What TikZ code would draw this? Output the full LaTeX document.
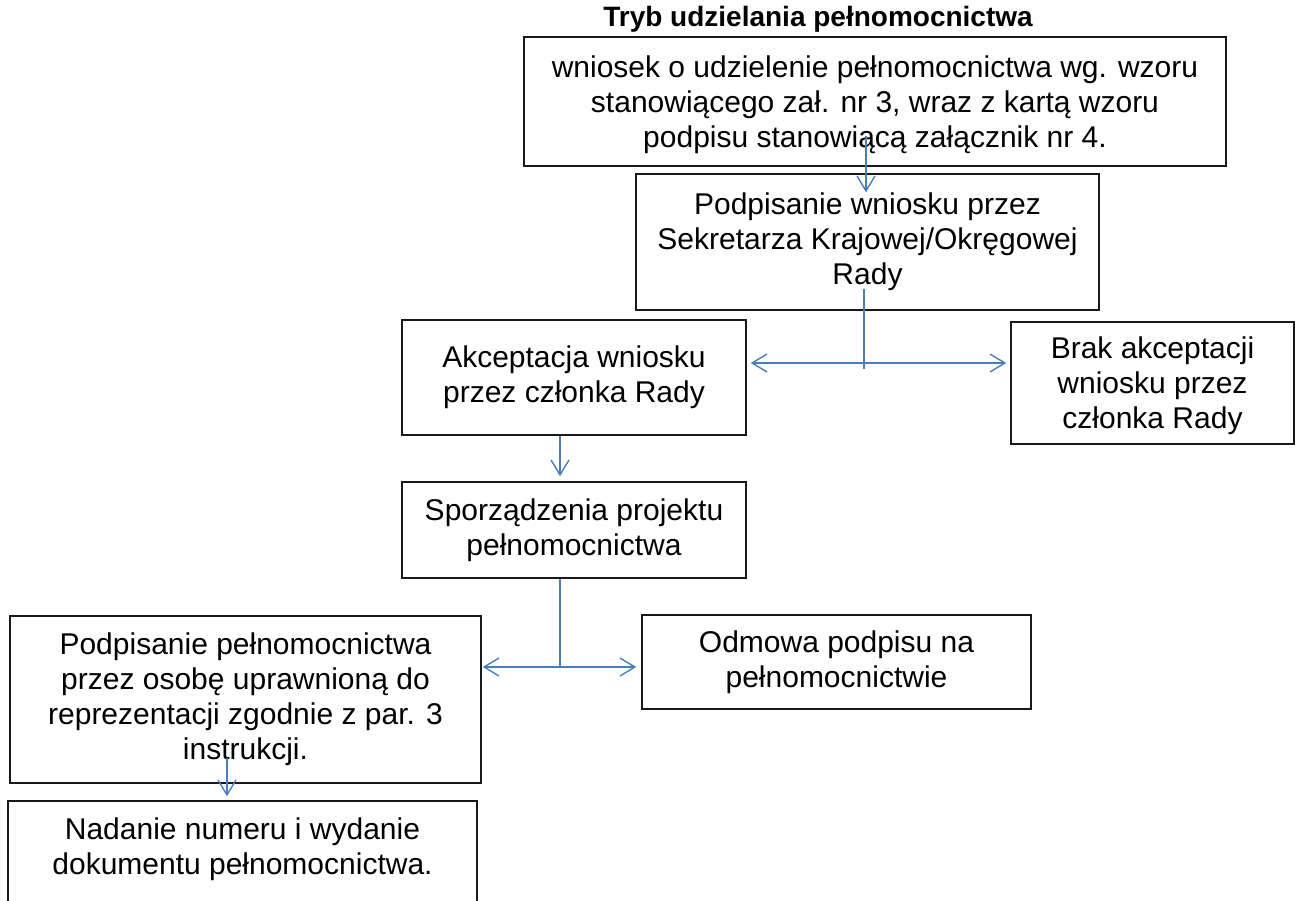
\documentclass[tikz,border=0pt]{standalone}
\usepackage{fontspec}
\setmainfont{Liberation Sans}
\usetikzlibrary{arrows.meta,calc}
\definecolor{lineblue}{HTML}{4A7EBB}
\begin{document}
\begin{tikzpicture}[x=1pt,y=-1pt,
  box/.style={draw=black!90, line width=1.4pt, align=center, inner sep=0pt, font=\fontsize{30}{35}\selectfont},
  txt/.style={align=center, inner sep=0pt, font=\fontsize{30}{35}\selectfont},
  conn/.style={draw=lineblue, line width=1.4pt},
  barb/.tip={Straight Barb[length=15pt,width=18pt]},
  tip/.style={-barb},
  dtip/.style={barb-barb}
]
\useasboundingbox (0,0) rectangle (1295,900);

\node[font=\fontsize{28}{34}\selectfont\bfseries, inner sep=0pt] (title) at (818,19) {Tryb udzielania pełnomocnictwa};

\node[box, minimum width=702, minimum height=129] (b1) at (875,101.5) {};
\node[txt] (t1) at ($(b1)+(0,3)$)
  {wniosek o udzielenie pełnomocnictwa wg. wzoru\\stanowiącego zał. nr 3, wraz z kartą wzoru\\podpisu stanowiącą załącznik nr 4.};
\node[box, minimum width=463, minimum height=136] (b2) at (867.5,242)
  {Podpisanie wniosku przez\\Sekretarza Krajowej/Okręgowej\\Rady};
\node[box, minimum width=344, minimum height=115] (b3) at (574,377.5)
  {Akceptacja wniosku\\przez członka Rady};
\node[box, minimum width=283, minimum height=122] (b4) at (1152.5,383) {};
\node[txt] (t4) at ($(b4)+(0,3)$)
  {Brak akceptacji\\wniosku przez\\członka Rady};
\node[box, minimum width=344, minimum height=96] (b5) at (574,530)
  {Sporządzenia projektu\\pełnomocnictwa};
\node[box, minimum width=471, minimum height=167] (b6) at (245.5,699.5)
  {Podpisanie pełnomocnictwa\\przez osobę uprawnioną do\\reprezentacji zgodnie z par. 3\\instrukcji.};
\node[box, minimum width=389, minimum height=94] (b8) at (836.5,662)
  {Odmowa podpisu na\\pełnomocnictwie};
\node[box, minimum width=469, minimum height=119] (b7) at (242.5,860.5) {};
\node[txt] (t7) at (242.5,849) {Nadanie numeru i wydanie\\dokumentu pełnomocnictwa.};

% connector 1
\coordinate (s1) at ($(b2.north)+(-1.5,-37)$);
\coordinate (e1) at ($(b2.north)+(-1.5,19)$);
\draw[conn,tip] (s1) -- (e1);

% connector 2
\coordinate (s2) at ($(b2.south)+(-3.5,-22)$);
\coordinate (e2) at ($(b2.south)+(-3.5,58)$);
\draw[conn] (s2) -- (e2);
\coordinate (l2) at ($(b3.east)+(4,-14.5)$);
\coordinate (r2) at ($(b4.west)+(-4,-20)$);
\draw[conn,dtip] (l2) -- (r2);

% connector 3
\coordinate (s3) at ($(b3.south)+(-14,0)$);
\coordinate (e3) at ($(b5.north)+(-14,-5)$);
\draw[conn,tip] (s3) -- (e3);

% connector 4
\coordinate (s4) at ($(b5.south)+(-14,0)$);
\coordinate (e4) at ($(b5.south)+(-14,89)$);
\draw[conn] (s4) -- (e4);
\coordinate (l4) at ($(b6.east)+(1,-32.5)$);
\coordinate (r4) at ($(b8.west)+(-5,5)$);
\draw[conn,dtip] (l4) -- (r4);

% connector 5
\coordinate (s5) at ($(b6.south)+(-18.5,-26)$);
\coordinate (e5) at ($(b7.north)+(-15.5,-4)$);
\draw[conn,tip] (s5) -- (e5);
\end{tikzpicture}
\end{document}
